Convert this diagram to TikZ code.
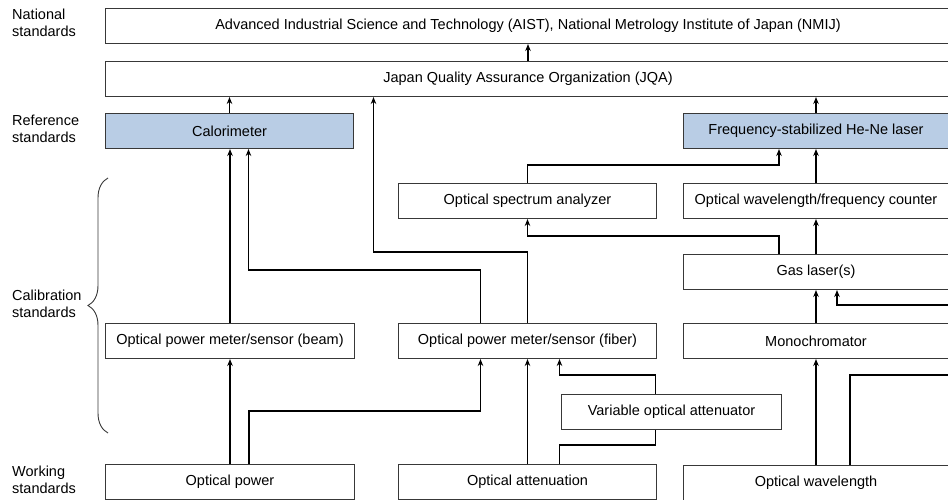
\documentclass[tikz,border=0pt]{standalone}
\usepackage{fontspec}
\setmainfont{Liberation Sans}
\usepackage{xcolor}
\definecolor{boxline}{HTML}{383838}
\definecolor{refblue}{HTML}{B9CDE5}
\usepackage{tikz}
\usetikzlibrary{arrows.meta, positioning, calc, decorations.pathreplacing}

\begin{document}
\begin{tikzpicture}[x=1pt, y=-1pt, >={Stealth[length=7pt,width=5.5pt]},
  stdbox/.style={draw=boxline, line width=1pt, anchor=north west, inner sep=0pt,
                 minimum height=35pt, font=\fontsize{14.5}{17}\selectfont},
  refbox/.style={stdbox, fill=refblue},
  tier/.style={anchor=west, align=left, inner sep=0pt, font=\fontsize{14.5}{17}\selectfont},
  wire/.style={line width=1.3pt},
  link/.style={wire, ->}]

  \useasboundingbox (0,0) rectangle (948,500);
  \clip (0,0) rectangle (948,500);

  \node[tier] (national) at (12,23)    {National\\standards};
  \node[tier] (reference) at (12,129)  {Reference\\standards};
  \node[tier] (calibration) at (12,304) {Calibration\\standards};
  \node[tier] (working) at (12,480)    {Working\\standards};

  \draw[boxline, line width=0.9pt, decorate, decoration={brace, amplitude=20pt}]
    (108,433) -- (108,178);

  \node[stdbox, minimum width=845pt] (aist) at (105,8)
    {Advanced Industrial Science and Technology (AIST), National Metrology Institute of Japan (NMIJ)};
  \node[stdbox, minimum width=845pt] (jqa) at (105,61)
    {Japan Quality Assurance Organization (JQA)};

  \node[refbox, minimum width=248pt] (calor) at (105,113) {Calorimeter};
  \node[refbox, minimum width=265pt] (hene) at (683,113) {Frequency-stabilized He-Ne laser};

  \node[stdbox, minimum width=258pt] (osa) at (398,183) {Optical spectrum analyzer};
  \node[stdbox, minimum width=265pt] (counter) at (683,183) {Optical wavelength/frequency counter};
  \node[stdbox, minimum width=265pt] (gas) at (683,254) {Gas laser(s)};

  \node[stdbox, minimum width=249pt] (beam) at (105,323) {Optical power meter/sensor (beam)};
  \node[stdbox, minimum width=258pt] (fiber) at (398,323) {Optical power meter/sensor (fiber)};
  \node[stdbox, minimum width=265pt] (mono) at (683,323) {Monochromator};

  \node[stdbox, minimum width=220pt] (voa) at (561,394) {Variable optical attenuator};

  \node[stdbox, minimum width=249pt] (power) at (105,464) {Optical power};
  \node[stdbox, minimum width=258pt] (atten) at (398,464) {Optical attenuation};
  \node[stdbox, minimum width=265pt] (wavelen) at (683,465) {Optical wavelength};

  % up to the national level
  \draw[link] (jqa) -- (aist);
  \draw[link] (calor.north) -- (calor.north |- jqa.south);
  \draw[link] (hene.north) -- (hene.north |- jqa.south);
  \draw[link] (fiber.north) -- ++(0,-71) -| ([xshift=-154.5]jqa.south);

  % power branch
  \draw[link] (beam.north) -- (beam.north |- calor.south);
  \draw[link] ([xshift=-47]fiber.north) -- ++(0,-53) -| ([xshift=19]calor.south);
  \draw[link] (power.north) -- (power.north |- beam.south);
  \draw[link] ([xshift=19]power.north) -- ++(0,-53) -| ([xshift=-47]fiber.south);
  \draw[link] (atten.north) -- (atten.north |- fiber.south);
  \draw[wire] ([xshift=32]atten.north) -- ++(0,-19) -| ([xshift=-16]voa.south);
  \draw[link] ([xshift=-16]voa.north) -- ++(0,-19) -| ([xshift=32]fiber.south);

  % wavelength branch
  \draw[link] (osa.north) -- ++(0,-18) -| ([xshift=-37]hene.south);
  \draw[link] (counter.north) -- (counter.north |- hene.south);
  \draw[link] ([xshift=-37]gas.north) -- ++(0,-18) -| (osa.south);
  \draw[link] (gas.north) -- (gas.north |- counter.south);
  \draw[link] (mono.north) -- (mono.north |- gas.south);
  \draw[link] (wavelen.north) -- (wavelen.north |- mono.south);
  \draw[link] ([xshift=34]wavelen.north) -- ++(0,-90) -- ++(110,0) -- ++(0,-70)
    -| ([xshift=21]gas.south);

\end{tikzpicture}
\end{document}
